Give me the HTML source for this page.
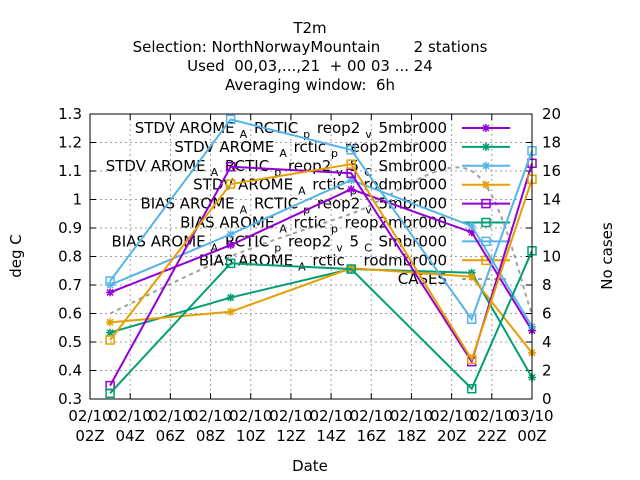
<!DOCTYPE html>
<html><head><meta charset="utf-8"><style>
body{margin:0;background:#fff}
svg{display:block;font-family:"DejaVu Sans","Liberation Sans",sans-serif}
text{white-space:pre}
</style></head><body>
<svg id="c" width="640" height="480"></svg>
<script>
const hours=[3,9,15,21,24];
const xTickHours=[2,4,6,8,10,12,14,16,18,20,22,24];
const xTickLabels=[["02/10","02Z"],["02/10","04Z"],["02/10","06Z"],["02/10","08Z"],["02/10","10Z"],["02/10","12Z"],["02/10","14Z"],["02/10","16Z"],["02/10","18Z"],["02/10","20Z"],["02/10","22Z"],["03/10","00Z"]];
const yTicks=[0.3,0.4,0.5,0.6,0.7,0.8,0.9,1,1.1,1.2,1.3];
const y2Ticks=[0,2,4,6,8,10,12,14,16,18,20];
const seriesNames=["STDV AROME_A RCTIC_p reop2_v 5mbr000","STDV AROME_A rctic_p reop2mbr000","STDV AROME_A RCTIC_p reop2_v 5_C Smbr000","STDV AROME_A rctic_p rodmbr000","BIAS AROME_A RCTIC_p reop2_v 5mbr000","BIAS AROME_A rctic_p reop2mbr000","BIAS AROME_A RCTIC_p reop2_v 5_C Smbr000","BIAS AROME_A rctic_p rodmbr000"];
const s1=[0.674,0.84,1.036,0.885,0.54];
const s2=[0.533,0.656,0.756,0.743,0.376];
const s3=[0.70,0.878,1.068,0.907,0.554];
const s4=[0.569,0.606,0.759,0.729,0.462];
const s5=[0.347,1.115,1.092,0.431,1.127];
const s6=[0.32,0.776,0.756,0.336,0.82];
const s7=[0.714,1.281,1.174,0.58,1.171];
const s8=[0.507,1.054,1.124,0.439,1.071];
const cases=[6,10,13,16,6];
const seriesVals=[s1,s2,s3,s4,s5,s6,s7,s8];
const colors=["#9400d3","#009e73","#56b4e9","#e69f00","#9400d3","#009e73","#56b4e9","#e69f00"];
const L=90,R=532,T=114,B=399;
const X=h=>L+(h-2)*(R-L)/22;
const Y=v=>B-(v-0.3)*(B-T)/1.0;
const Y2=v=>B-v*(B-T)/20;
const svg=document.getElementById('c');
const NS="http://www.w3.org/2000/svg";
function mk(tag,attrs,parent){const e=document.createElementNS(NS,tag);for(const k in attrs)e.setAttribute(k,attrs[k]);(parent||svg).appendChild(e);return e;}
function txt(x,y,s,anchor,size){const t=mk('text',{x:x,y:y,'text-anchor':anchor||'middle','font-size':size||15,fill:'#000'});t.textContent=s;return t;}
const titles=["T2m","Selection: NorthNorwayMountain       2 stations","Used  00,03,...,21  + 00 03 ... 24","Averaging window:  6h"];
const ty=[33,52,71,90];
titles.forEach((s,i)=>{const t=txt(310,ty[i],s);

});
const grid=mk('g',{stroke:'#a0a0a0','stroke-width':1,'stroke-dasharray':'2,3'});


yTicks.slice(1,-1).forEach(v=>mk('line',{x1:L,x2:R,y1:Y(v),y2:Y(v)},grid));
xTickHours.slice(1,-1).forEach(h=>mk('line',{x1:X(h),x2:X(h),y1:T,y2:B},grid));
const tk=mk('g',{stroke:'#000','stroke-width':1});


yTicks.forEach(v=>{mk('line',{x1:L,x2:L+6,y1:Y(v),y2:Y(v)},tk);});
y2Ticks.forEach(v=>{mk('line',{x1:R,x2:R-6,y1:Y2(v),y2:Y2(v)},tk);});
xTickHours.forEach(h=>{mk('line',{x1:X(h),x2:X(h),y1:B,y2:B-6},tk);mk('line',{x1:X(h),x2:X(h),y1:T,y2:T+6},tk);});
yTicks.forEach(v=>{const t=txt(L-8,Y(v)+5,String(v),'end');

});
y2Ticks.forEach(v=>{const t=txt(R+10,Y2(v)+5,String(v),'start');

});
xTickHours.forEach((h,i)=>{const a=txt(X(h),B+22,xTickLabels[i][0]);


const b=txt(X(h),B+42,xTickLabels[i][1]);

});
const xt=txt(310,471,"Date");


const yt=txt(0,0,"deg C");yt.setAttribute('transform','translate(21,256) rotate(-90)');


const y2t=txt(0,0,"No cases");y2t.setAttribute('transform','translate(612,256) rotate(-90)');


function legendLabel(name,x,y){
  const t=mk('text',{x:x,y:y,'text-anchor':'end','font-size':15,fill:'#000'});
  const parts=name.split(/(_[A-Za-z])/);
  let sub=false;
  parts.forEach(p=>{if(!p)return;const ts=mk('tspan',{},t);
    if(/^_[A-Za-z]$/.test(p)){ts.textContent=p[1];ts.setAttribute('font-size','11');ts.setAttribute('dy','5');ts.setAttribute('dx','5');sub=true;}
    else{ts.textContent=p;if(sub){ts.setAttribute('dy','-5');ts.setAttribute('dx','2');sub=false;}}});
  return t;}
function star(g,x,y,c){mk('path',{d:`M${x-4},${y}H${x+4}M${x},${y-4}V${y+4}M${x-3},${y-3}L${x+3},${y+3}M${x-3},${y+3}L${x+3},${y-3}`,stroke:c,'stroke-width':1.5,fill:'none'},g);}
function sq(g,x,y,c){mk('rect',{x:x-4,y:y-4,width:8,height:8,stroke:c,'stroke-width':1.5,fill:'none'},g);}
const cp=hours.map((h,i)=>[X(h),Y2(cases[i])]);
let d=`M${cp[0][0]},${cp[0][1]}`;
for(let i=0;i<cp.length-1;i++){const p0=cp[Math.max(i-1,0)],p1=cp[i],p2=cp[i+1],p3=cp[Math.min(i+2,cp.length-1)];
d+=` C${p1[0]+(p2[0]-p0[0])/6},${p1[1]+(p2[1]-p0[1])/6} ${p2[0]-(p3[0]-p1[0])/6},${p2[1]-(p3[1]-p1[1])/6} ${p2[0]},${p2[1]}`;}
const cl=mk('path',{d:d,stroke:'#a0a0a0','stroke-width':2,'stroke-dasharray':'4,4',fill:'none'});


seriesNames.forEach((n,i)=>{const cy=128+i*18.9;const t=legendLabel(n,447,cy+5);


const g=mk('g',{});


mk('line',{x1:462,x2:510,y1:cy,y2:cy,stroke:colors[i],'stroke-width':2},g);
(i<4?star:sq)(g,486,cy,colors[i]);});
const lc=txt(447,284,"CASES",'end');


const lcl=mk('line',{x1:462,x2:510,y1:279,y2:279,stroke:'#a0a0a0','stroke-width':2,'stroke-dasharray':'4,4'});


seriesVals.forEach((vals,i)=>{const g=mk('g',{});


mk('polyline',{points:hours.map((h,j)=>X(h)+','+Y(vals[j])).join(' '),stroke:colors[i],'stroke-width':2,fill:'none'},g);
hours.forEach((h,j)=>(i<4?star:sq)(g,X(h),Y(vals[j]),colors[i]));});
const fr=mk('rect',{x:L,y:T,width:R-L,height:B-T,fill:'none',stroke:'#000','stroke-width':1});


</script>
</body></html>
